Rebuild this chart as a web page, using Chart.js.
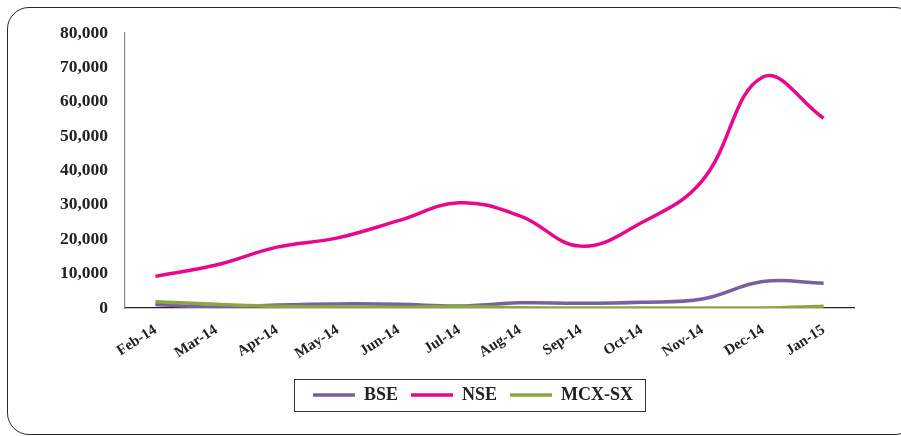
<!DOCTYPE html>
<html>
<head>
<meta charset="utf-8">
<script src="https://cdn.jsdelivr.net/npm/chart.js@4.4.1/dist/chart.umd.min.js"></script>
<style>
  html, body { margin: 0; padding: 0; background: #fff; overflow: hidden; }
  #wrap { position: relative; width: 901px; height: 436px; }
  #frame {
    position: absolute; left: 7px; top: 7px; width: 910px; height: 428px;
    border: 1.5px solid #2a2a2a; border-radius: 22px; box-sizing: border-box;
  }
  canvas { position: absolute; left: 0; top: 0; }
</style>
</head>
<body>
<div id="wrap">
  <div id="frame"></div>
  <canvas id="chart" width="901" height="436"></canvas>
</div>
<script>
'use strict';

/* ── data ── */
const months = ['Feb-14','Mar-14','Apr-14','May-14','Jun-14','Jul-14',
                'Aug-14','Sep-14','Oct-14','Nov-14','Dec-14','Jan-15'];
const bse    = [1000, 300, 900, 1200, 1100, 600, 1500, 1400, 1700, 2600, 7700, 7200];
const nse    = [9200, 12500, 17700, 20400, 25400, 30600, 26800, 18000, 24800, 37000, 67200, 55200];
const mcxsx  = [1800, 1100, 500, 300, 200, 500, 50, 0, 0, 0, 0, 500];

const FONT = '"Liberation Serif", "DejaVu Serif", serif';

/* ── legend: nudge right, then box it ── */
const legendBox = {
  id: 'legendBox',
  afterLayout(chart) {
    chart.legend.left  += 46;
    chart.legend.right += 46;
  },
  afterDraw(chart) {
    const boxes = chart.legend.legendHitBoxes;
    if (!boxes || !boxes.length) return;
    const l  = Math.min(...boxes.map(b => b.left)) - 19;
    const r  = Math.max(...boxes.map(b => b.left + b.width)) + 12;
    const t  = Math.min(...boxes.map(b => b.top)) - 7;
    const bt = Math.max(...boxes.map(b => b.top + b.height)) + 7;
    const ctx = chart.ctx;
    ctx.save();
    ctx.strokeStyle = '#333';
    ctx.lineWidth = 1;
    ctx.strokeRect(Math.round(l) + 0.5, Math.round(t) + 0.5, Math.round(r - l), Math.round(bt - t));
    ctx.restore();
  }
};

new Chart(document.getElementById('chart'), {
  type: 'line',
  data: {
    labels: months,
    datasets: [
      { label: 'BSE',    data: bse,   borderColor: '#7560a0', backgroundColor: '#7560a0', borderWidth: 3.5, order: 2 },
      { label: 'NSE',    data: nse,   borderColor: '#e8088c', backgroundColor: '#e8088c', borderWidth: 3.5, order: 1 },
      { label: 'MCX-SX', data: mcxsx, borderColor: '#8ea63f', backgroundColor: '#8ea63f', borderWidth: 3.5, order: 0 }
    ]
  },
  options: {
    responsive: false,
    animation: false,
    layout: { padding: { left: 0, right: 47, top: 33, bottom: 22 } },
    elements: {
      line:  { tension: 0.4 },
      point: { radius: 0 }
    },
    plugins: {
      tooltip: { enabled: false },
      legend: {
        position: 'bottom',
        labels: {
          color: '#222',
          font: { family: FONT, size: 18, weight: 'bold' },
          usePointStyle: true,
          pointStyle: 'line',
          pointStyleWidth: 42,
          padding: 13,
          sort: (a, b) => a.datasetIndex - b.datasetIndex
        }
      }
    },
    scales: {
      x: {
        offset: true,
        afterFit: s => { s.height = 65; },
        grid: { display: false, drawTicks: false },
        border: { color: '#222', width: 1.2 },
        ticks: {
          color: '#222', padding: 13,
          minRotation: 33, maxRotation: 33,
          font: { family: FONT, size: 15, weight: 'bold' }
        }
      },
      y: {
        min: 0, max: 80000,
        afterFit: s => { s.width = 125; },
        grid: { display: false, drawTicks: false },
        border: { color: '#888', width: 1.2 },
        ticks: {
          stepSize: 10000, color: '#222', padding: 17,
          font: { family: FONT, size: 17.5, weight: 'bold' },
          callback: v => v.toLocaleString('en-US')
        }
      }
    }
  },
  plugins: [legendBox]
});
</script>
</body>
</html>
